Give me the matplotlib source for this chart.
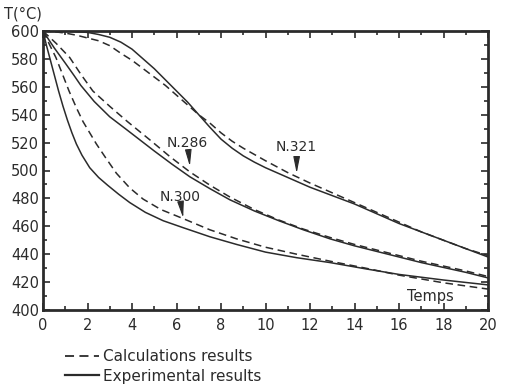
"""
Cooling curves: calculated vs experimental temperature for three samples.
"""
import matplotlib
matplotlib.use("Agg")
from matplotlib import pyplot as plt
from matplotlib.lines import Line2D
from matplotlib.ticker import MultipleLocator

# N.321 (top pair)
t_321_exp = [0, 0.5, 1, 1.5, 2, 2.5, 3, 3.5, 4, 4.5, 5, 5.5, 6, 6.5, 7, 7.5,
             8, 8.5, 9, 9.5, 10, 11, 12, 13, 14, 15, 16, 17, 18, 19, 20]
T_321_exp = [600, 600, 600, 599.5, 599, 597.5, 595.5, 592, 587, 580, 573, 565,
             557, 549, 540, 531, 522.5, 516, 510.5, 506, 502, 495, 488, 482, 476,
             469, 462, 456, 450, 444, 438]
t_321_calc = [0, 0.5, 1, 1.5, 2, 2.5, 3, 3.5, 4, 4.5, 5, 5.5, 6, 6.5, 7, 7.5,
              8, 8.5, 9, 9.5, 10, 11, 12, 13, 14, 15, 16, 17, 18, 19, 20]
T_321_calc = [600, 599.5, 598.5, 597, 595, 593, 589.5, 584, 579, 573, 567, 561,
              554, 547, 540, 534, 527, 521, 516, 511.5, 507, 498.5, 491, 484, 477,
              470, 463, 456, 450, 444, 439]

# N.286 (middle pair)
t_286_exp = [0, 0.5, 1, 1.4, 1.7, 2.3, 3, 3.7, 4.35, 5, 5.8, 6.6, 7.5, 8.4,
             9.5, 10.6, 11.7, 12.9, 14, 15, 16, 17, 18, 19, 20]
T_286_exp = [600, 588, 577, 568, 561, 549.5, 538.5, 530, 522, 514, 504.5, 495.5,
             487, 479, 471, 464, 457.5, 451, 446, 442, 438, 434, 430.5, 427, 423]
t_286_calc = [0, 0.6, 1.2, 1.7, 2.24, 3, 3.8, 4.8, 5.7, 6.6, 7.5, 8.4, 9.5,
              10.6, 11.7, 12.9, 14, 15, 16, 17, 18, 19, 20]
T_286_calc = [600, 591, 581, 569, 557, 546, 535, 522, 510, 499, 489.5, 481,
              472, 464.5, 458, 452, 447, 443, 439, 435, 431.5, 428, 424]

# N.300 (bottom pair)
t_300_exp = [0, 0.15, 0.3, 0.5, 0.7, 0.9, 1.1, 1.3, 1.5, 1.75, 2.1, 2.5, 2.9,
             3.4, 3.9, 4.6, 5.4, 6.3, 7.5, 8.7, 10, 11.4, 12.9, 14.5, 16, 18, 20]
T_300_exp = [600, 590, 581, 569, 557, 546, 536, 527, 519, 511, 502, 495, 489.5,
             483, 477, 470, 464, 459, 452.5, 447, 441.5, 437.5, 434, 429.5,
             425.5, 421.5, 418]
t_300_calc = [0, 0.3, 0.58, 0.9, 1.17, 1.5, 1.8, 2.1, 2.4, 2.8, 3.3, 3.9, 4.5,
              5.3, 6.3, 7.5, 8.7, 10, 11.4, 12.9, 14.5, 16, 18, 20]
T_300_calc = [600, 590, 581, 568, 557, 545, 535, 527, 519, 509.5, 498, 487.5, 479.5,
              472, 465.5, 457.5, 451, 445, 440, 435, 430, 425, 419.5, 415]

# arrow labels: (name, arrow tip t, arrow tip T, text t, text T)
labels = [("N.286", 6.6, 503, 6.5, 520),
          ("N.321", 11.4, 498, 11.4, 517),
          ("N.300", 6.3, 466, 6.15, 481)]

INK = "#2b2b2b"
DASH = (5, 3)

fig = plt.figure(figsize=(5.07, 3.88), dpi=100)
ax = fig.add_axes([43 / 507, 1 - 310 / 388, 445 / 507, 279 / 388])

for t, T in [(t_321_exp, T_321_exp), (t_286_exp, T_286_exp), (t_300_exp, T_300_exp)]:
    ax.plot(t, T, color=INK, lw=1.1)
for t, T in [(t_321_calc, T_321_calc), (t_286_calc, T_286_calc), (t_300_calc, T_300_calc)]:
    ax.plot(t, T, color=INK, lw=1.1, dashes=DASH)

for name, tx, ty, lx, ly in labels:
    ax.annotate(name, xy=(tx, ty), xytext=(lx, ly), ha="center", va="center",
                fontsize=10, color=INK,
                arrowprops=dict(arrowstyle="-|>,head_length=1.0,head_width=0.2",
                                color=INK, lw=0.8, shrinkA=1, shrinkB=0))

ax.text(17.4, 410, "Temps", ha="center", va="center", fontsize=10.5, color=INK)

ax.set_xlim(0, 20)
ax.set_ylim(400, 600)
ax.xaxis.set_major_locator(MultipleLocator(2))
ax.xaxis.set_minor_locator(MultipleLocator(1))
ax.yaxis.set_major_locator(MultipleLocator(20))
ax.yaxis.set_minor_locator(MultipleLocator(10))
ax.tick_params(which="both", direction="in", top=True, right=True,
               colors=INK, labelsize=10.5, width=1.2)
ax.tick_params(which="major", length=5)
ax.tick_params(which="minor", length=3)
ax.tick_params(axis="x", pad=6)
ax.tick_params(axis="y", pad=3)
for side in ax.spines.values():
    side.set_linewidth(2)
    side.set_color(INK)

fig.text(4 / 507, 1 - 14 / 388, "T(\u00b0C)", ha="left", va="center",
         fontsize=10.5, color=INK)

handles = [Line2D([], [], color=INK, lw=1.3, dashes=DASH),
           Line2D([], [], color=INK, lw=1.6)]
fig.legend(handles, ["Calculations results", "Experimental results"],
           loc="upper left", bbox_to_anchor=(65 / 507, 1 - 349 / 388),
           frameon=False, fontsize=11, borderpad=0, borderaxespad=0,
           handlelength=2.2, handletextpad=0.3, labelspacing=0.3,
           labelcolor=INK)

fig.savefig("out.png", dpi=100, facecolor="white")
